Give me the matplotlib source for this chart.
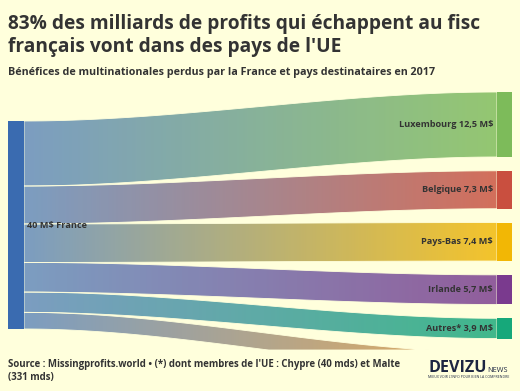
import numpy as np
import matplotlib
matplotlib.use("Agg")
import matplotlib.pyplot as plt
from matplotlib.patches import Rectangle, PathPatch
from matplotlib.path import Path
from matplotlib.colors import to_rgb

# ---- data ----
source_label = "40 M$ France"
source_value = 40.0
targets = ["Luxembourg", "Belgique", "Pays-Bas", "Irlande", "Autres*", "hidden"]
values = [12.5, 7.3, 7.4, 5.7, 3.9, 3.2]
value_labels = ["12,5", "7,3", "7,4", "5,7", "3,9", ""]
target_colors = ["#7dbb5a", "#c94f3f", "#f2b705", "#7a3a8e", "#16a87a", "#e39a3b"]
source_color = "#3a6bb0"

title = "83% des milliards de profits qui échappent au fisc\nfrançais vont dans des pays de l'UE"
subtitle = "Bénéfices de multinationales perdus par la France et pays destinataires en 2017"
source_txt = "Source : Missingprofits.world • (*) dont membres de l'UE : Chypre (40 mds) et Malte\n(331 mds)"

BG = "#ffffdc"
FONT = ["Open Sans", "DejaVu Sans"]
TXT = "#333333"

fig = plt.figure(figsize=(5.2, 3.91), dpi=100, facecolor=BG)
ax = fig.add_axes([0, 0, 1, 1])
ax.set_xlim(0, 520)
ax.set_ylim(391, 0)
ax.axis("off")
ax.set_facecolor(BG)
renderer = fig.canvas.get_renderer()


def fit_text(x, y, s, width, size, **kw):
    t = ax.text(x, y, s, fontsize=size, **kw)
    w = t.get_window_extent(renderer).width
    if w > 0:
        t.set_fontsize(size * width / w)
    return t


# layout
xL0, xL1 = 8, 24
xR0, xR1 = 497, 512
left_top = 121
right_top = 92
scale = 208 / source_value
gap = 13.8
clip_y = 350

ax.add_patch(Rectangle((xL0, left_top), xL1 - xL0, source_value * scale,
                       facecolor=source_color, edgecolor="none", zorder=3))

c0 = np.array(to_rgb("#5f88bb"))
ly = left_top
ry = right_top
t = np.linspace(0, 1, 200)
xs = xL1 + (xR0 - xL1) * t
s = 3 * t**2 - 2 * t**3
for i, (name, v) in enumerate(zip(targets, values)):
    h = v * scale
    y0t, y0b = ly, ly + h
    y1t, y1b = ry, ry + h
    top = np.minimum(y0t + (y1t - y0t) * s, clip_y)
    bot = np.minimum(y0b + (y1b - y0b) * s, clip_y)
    verts = np.concatenate([np.column_stack([xs, top]), np.column_stack([xs[::-1], bot[::-1]])])
    path = Path(np.vstack([verts, verts[:1]]), closed=True)
    patch = PathPatch(path, facecolor="none", edgecolor=BG, lw=0.6, zorder=2)
    ax.add_patch(patch)
    c1 = np.array(to_rgb(target_colors[i]))
    n = 256
    f = np.linspace(0, 1, n)[:, None]
    img = np.zeros((1, n, 4))
    img[0, :, :3] = c0 * (1 - f) + c1 * f
    img[0, :, 3] = 0.82
    im = ax.imshow(img, extent=[xL1, xR0, max(y0b, y1b) + 1, min(y0t, y1t) - 1],
                   aspect="auto", interpolation="bilinear", zorder=1)
    im.set_clip_path(patch)
    if name != "hidden":
        ax.add_patch(Rectangle((xR0, ry), xR1 - xR0, h, facecolor=target_colors[i],
                               edgecolor="none", zorder=3))
        ax.text(xR0 - 4, ry + h / 2, f"{name} {value_labels[i]} M$", ha="right", va="center",
                fontsize=6.6, fontweight="bold", color=TXT, family=FONT, zorder=4)
    ly += h
    ry += h + gap

ax.set_xlim(0, 520)
ax.set_ylim(391, 0)

ax.text(xL1 + 3, left_top + source_value * scale / 2, source_label, ha="left", va="center",
        fontsize=6.6, fontweight="bold", color=TXT, family=FONT, zorder=4)

t1 = fit_text(8, 29, title.split("\n")[0], 472, 14.5, ha="left", va="baseline",
              fontweight="bold", color=TXT, family=FONT)
ax.text(8, 52, title.split("\n")[1], fontsize=t1.get_fontsize(), ha="left", va="baseline",
        fontweight="bold", color=TXT, family=FONT)
fit_text(8, 75, subtitle, 425, 9, ha="left", va="baseline", fontweight="bold", color=TXT,
         family=FONT)
s1 = fit_text(8, 367, source_txt.split("\n")[0], 395, 8, ha="left", va="baseline",
              fontweight="bold", color=TXT, family=FONT)
ax.text(8, 380, source_txt.split("\n")[1], ha="left", va="baseline", fontsize=s1.get_fontsize(),
        fontweight="bold", color=TXT, family=FONT)

# logo
d = fit_text(428, 372, "DEVIZU", 58, 12, ha="left", va="baseline", fontweight="bold",
             color="#1c2541", family=FONT)
ax.text(487, 372, "NEWS", ha="left", va="baseline", fontsize=5.2, color="#1c2541",
        family=FONT)
fit_text(428, 376.5, "MIEUX VOIR L'INFO POUR BIEN LA COMPRENDRE", 84, 2.3, ha="left",
         va="center", color="#1c2541", family=FONT)

fig.savefig("out.png", dpi=100, facecolor=BG)
